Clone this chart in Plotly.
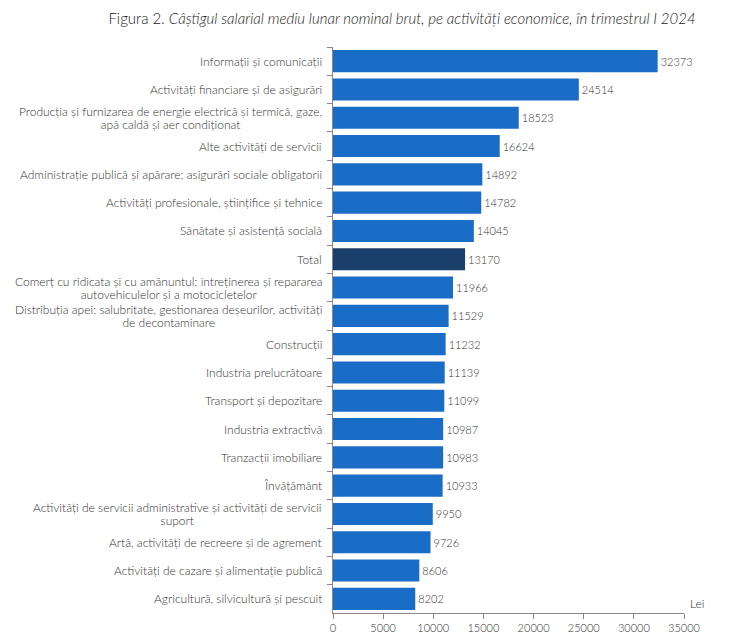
import plotly.graph_objects as go

categories = [
    "Informații și comunicații",
    "Activități financiare și de asigurări",
    "Producția și furnizarea de energie electrică și termică, gaze,<br>apă caldă și aer condiționat",
    "Alte activități de servicii",
    "Administrație publică și apărare; asigurări sociale obligatorii",
    "Activități profesionale, științifice și tehnice",
    "Sănătate și asistență socială",
    "Total",
    "Comerț cu ridicata și cu amănuntul; întreținerea și repararea<br>autovehiculelor și a motocicletelor",
    "Distribuția apei; salubritate, gestionarea deșeurilor, activități<br>de decontaminare",
    "Construcții",
    "Industria prelucrătoare",
    "Transport și depozitare",
    "Industria extractivă",
    "Tranzacții imobiliare",
    "Învățământ",
    "Activități de servicii administrative și activități de servicii<br>suport",
    "Artă, activități de recreere și de agrement",
    "Activități de cazare și alimentație publică",
    "Agricultură, silvicultură și pescuit",
]
values = [32373, 24514, 18523, 16624, 14892, 14782, 14045, 13170, 11966, 11529,
          11232, 11139, 11099, 10987, 10983, 10933, 9950, 9726, 8606, 8202]
x_ticks = [0, 5000, 10000, 15000, 20000, 25000, 30000, 35000]

BLUE = "#1a6dc6"
DARK = "#1b3f6b"
colors = [DARK if c == "Total" else BLUE for c in categories]
FONT = "Lato"
TXT = "#333333"
BIG = "<span style='font-size:12px'>{}</span>"

fig = go.Figure(go.Bar(
    x=values, y=categories, orientation="h",
    marker=dict(color=colors, line=dict(width=0)),
    text=[str(v) for v in values], textposition="outside",
    textfont=dict(family=FONT, size=11, color=TXT, weight=300),
    cliponaxis=False,
))

annotations = []
for c in categories:
    parts = c.split("<br>")
    if len(parts) == 1:
        txt, fs = c, 12
    else:
        txt, fs = "<br>".join(BIG.format(p) for p in parts), 10
    annotations.append(dict(x=0, xref="paper", y=c, yref="y", showarrow=False,
                            xanchor="right", xshift=-9, align="center", text=txt,
                            font=dict(family=FONT, size=fs, color=TXT, weight=300)))
annotations.append(dict(x=1, xref="paper", y=0, yref="paper", text="Lei",
                        showarrow=False, xanchor="left", yanchor="bottom",
                        xshift=4, font=dict(family=FONT, size=12, color=TXT, weight=300)))

fig.update_layout(
    width=731, height=644,
    margin=dict(l=325, r=55, t=39, b=39),
    paper_bgcolor="white", plot_bgcolor="white",
    bargap=0.22,
    showlegend=False,
    title=dict(text="Figura 2. <i>Câștigul salarial mediu lunar nominal brut, pe activități economice, în trimestrul I 2024</i>",
               x=0.539, xanchor="center", y=0.984, yanchor="middle",
               font=dict(family=FONT, size=15, color="#222222", weight=300)),
    annotations=annotations,
    font=dict(family=FONT, color=TXT),
)
fig.update_xaxes(range=[0, 35000], tickvals=x_ticks, ticktext=[str(t) for t in x_ticks],
                 showgrid=False, zeroline=False, showline=True, linecolor="#888888",
                 ticks="outside", ticklen=5, tickcolor="#888888",
                 tickfont=dict(family=FONT, size=11, color=TXT, weight=300))
fig.update_yaxes(autorange="reversed", showticklabels=False, showgrid=False,
                 showline=True, linecolor="#888888", ticks="outside", ticklen=5,
                 tickcolor="#888888", tickson="boundaries")

fig.write_html("out.html")
